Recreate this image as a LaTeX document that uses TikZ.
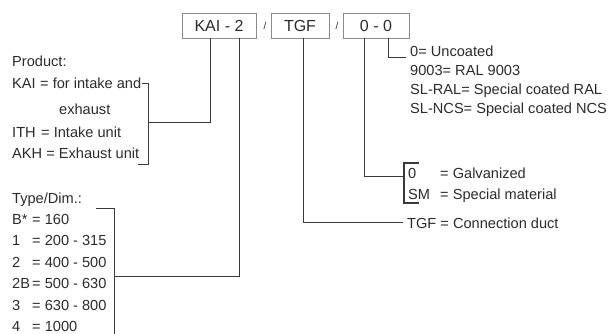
\documentclass[tikz,border=0pt]{standalone}
\usepackage{fontspec}
\setmainfont{Liberation Sans}
\usetikzlibrary{calc}
\definecolor{ink}{HTML}{2B2B2B}
\definecolor{wirecol}{HTML}{3A3A3A}
\definecolor{frame}{HTML}{8A8A8A}
\newcommand{\keyfont}{\fontsize{14.6}{18.7}\selectfont}
\newcommand{\codefont}{\fontsize{16}{19}\selectfont}
\tikzset{
 every node/.append style={text=ink},
 code/.style={draw=frame,line width=.9pt,minimum height=25pt,inner sep=0pt,font=\codefont},
 sep/.style={font=\fontsize{10}{12}\selectfont,inner sep=0pt},
 entry/.style={anchor=base west,inner sep=0pt,font=\keyfont},
 wire/.style={draw=wirecol,line width=1pt},
 brace/.style={wire,line width=1.4pt},
}

\begin{document}
\begin{tikzpicture}[x=1pt,y=-1pt]
\useasboundingbox (0,0) rectangle (610,334);

% order code
\node[code,minimum width=74pt] (kai) at (219,25.5) {KAI - 2};
\node[code,minimum width=58pt] (tgf) at (300,25.5) {TGF};
\node[code,minimum width=66pt] (coat) at (376,25.5) {0 - 0};
\node[sep] (slash1) at (265,26) {/};
\node[sep] (slash2) at (337,26) {/};

% product
\node[entry] (prod) at (12,67) {Product:};
\node[entry] (kaikey) at (12,89) {KAI};
\node[entry] (kaival) at (40,89) {= for intake and};
\node[entry] (kaiwrap) at (59,115) {exhaust};
\node[entry] (ithkey) at (12,138) {ITH};
\node[entry] (ithval) at (41,138) {= Intake unit};
\node[entry] (akh) at (12,158) {AKH = Exhaust unit};

% type / dimension
\node[entry,font=\fontsize{14.6}{21.4}\selectfont] (dims) at (12,203) {
  \begin{tabular}[t]{@{}p{20pt}@{}l@{}}
    \multicolumn{2}{@{}l@{}}{Type/Dim.:}\\
    B* & = 160\\
    1  & = 200 - 315\\
    2  & = 400 - 500\\
    2B & = 500 - 630\\
    3  & = 630 - 800\\
    4  & = 1000
  \end{tabular}};

% coating
\node[entry] (finish) at (410,57) {
  \begin{tabular}[t]{@{}l@{}}
    0= Uncoated\\
    9003= RAL 9003\\
    SL-RAL= Special coated RAL\\
    SL-NCS= Special coated NCS
  \end{tabular}};

% material
\node[entry,font=\fontsize{14.6}{21}\selectfont] (material) at (408,178) {
  \begin{tabular}[t]{@{}p{32pt}@{}l@{}}
    0  & = Galvanized\\
    SM & = Special material
  \end{tabular}};

\node[entry] (duct) at (407,228) {TGF = Connection duct};

% connectors
\coordinate (prodbr) at (148,123);
\draw[wire] (142,84) -- (148,84) -- (148,164) -- (138,164);
\draw[wire] ([xshift=-9pt]kai.south) |- (prodbr);

\coordinate (dimsbr) at (114,276);
\draw[wire] (96,208) -- (114,208) -- (114,334);
\draw[wire] ([xshift=20pt]kai.south) |- (dimsbr);

\coordinate (ductend) at (403,222);
\draw[wire] ([xshift=3pt]tgf.south) |- (ductend);

\coordinate (matbr) at (404,176);
\draw[brace] (419,163) -- (404,163) -- (404,203) -- (419,203);
\draw[wire] ([xshift=-12pt]coat.south) |- (matbr);

\coordinate (finishend) at (406,58);
\draw[wire] ([xshift=12pt]coat.south) |- (finishend);

\end{tikzpicture}
\end{document}
